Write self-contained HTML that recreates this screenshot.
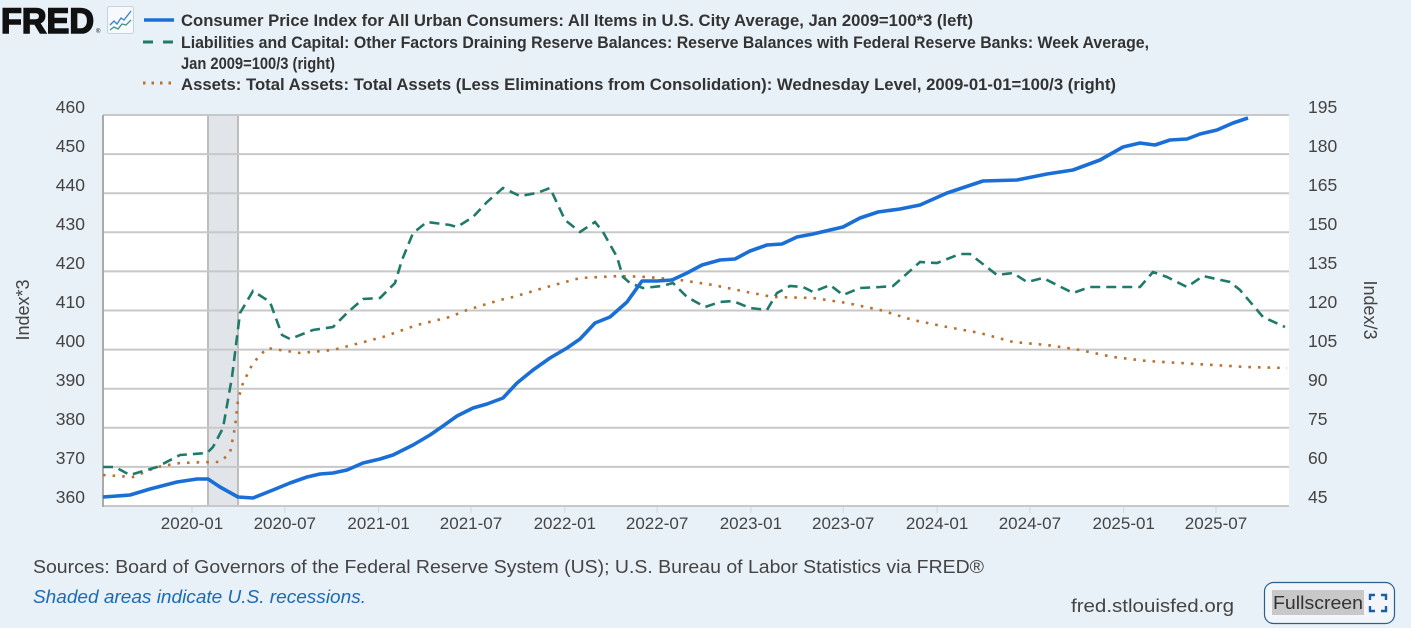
<!DOCTYPE html>
<html><head><meta charset="utf-8"><style>
html,body{margin:0;padding:0;background:#e8f0f8;}
svg{display:block;}
text{font-family:"Liberation Sans",sans-serif;}
</style></head><body>
<svg width="1411" height="628" viewBox="0 0 1411 628" xmlns="http://www.w3.org/2000/svg">
<rect x="0" y="0" width="1411" height="628" fill="#e8f0f8"/>
<!-- logo -->
<text x="1" y="33" font-size="35" font-weight="bold" fill="#111" stroke="#111" stroke-width="1.6" textLength="93" lengthAdjust="spacingAndGlyphs">FRED</text>
<text x="96" y="33" font-size="6" fill="#111">®</text>
<rect x="107.5" y="6.5" width="26" height="27" rx="2" fill="#f7f9fc" stroke="#c5d3e0"/>
<polyline points="110,25 114,21 117,24 121,18 124,20 131,11" fill="none" stroke="#3a7fd0" stroke-width="1.3"/>
<polyline points="110,30 114,27 118,29 122,24 126,25 131,20" fill="none" stroke="#3a9a80" stroke-width="1.3"/>
<!-- legend -->
<line x1="144" y1="20" x2="174" y2="20" stroke="#1a6fd6" stroke-width="3.5"/>
<line x1="143" y1="42" x2="174" y2="42" stroke="#1f7a6a" stroke-width="3" stroke-dasharray="10,10"/>
<line x1="143" y1="83" x2="174" y2="83" stroke="#b8712f" stroke-width="3" stroke-dasharray="2.5,6"/>
<g font-size="17" font-weight="bold" fill="#333">
<text x="181" y="26" textLength="792" lengthAdjust="spacingAndGlyphs">Consumer Price Index for All Urban Consumers: All Items in U.S. City Average, Jan 2009=100*3 (left)</text>
<text x="181" y="48" textLength="968" lengthAdjust="spacingAndGlyphs">Liabilities and Capital: Other Factors Draining Reserve Balances: Reserve Balances with Federal Reserve Banks: Week Average,</text>
<text x="181" y="69" textLength="154" lengthAdjust="spacingAndGlyphs">Jan 2009=100/3 (right)</text>
<text x="181" y="90" textLength="935" lengthAdjust="spacingAndGlyphs">Assets: Total Assets: Total Assets (Less Eliminations from Consolidation): Wednesday Level, 2009-01-01=100/3 (right)</text>
</g>
<!-- plot area -->
<rect x="103" y="115" width="1186" height="391" fill="#ffffff"/>
<rect x="208" y="115" width="30" height="391" fill="#e1e5ea"/>
<line x1="208" y1="115" x2="208" y2="506" stroke="#bdbdbd" stroke-width="2"/>
<line x1="238" y1="115" x2="238" y2="506" stroke="#bdbdbd" stroke-width="2"/>
<g stroke="#c8c8c8" stroke-width="2">
<line x1="103" y1="115" x2="1289" y2="115"/>
<line x1="103" y1="154.1" x2="1289" y2="154.1"/>
<line x1="103" y1="193.2" x2="1289" y2="193.2"/>
<line x1="103" y1="232.3" x2="1289" y2="232.3"/>
<line x1="103" y1="271.4" x2="1289" y2="271.4"/>
<line x1="103" y1="310.5" x2="1289" y2="310.5"/>
<line x1="103" y1="349.6" x2="1289" y2="349.6"/>
<line x1="103" y1="388.7" x2="1289" y2="388.7"/>
<line x1="103" y1="427.8" x2="1289" y2="427.8"/>
<line x1="103" y1="466.9" x2="1289" y2="466.9"/>
<line x1="103" y1="506" x2="1289" y2="506"/>
</g>
<line x1="103" y1="115" x2="103" y2="507" stroke="#aaaaaa" stroke-width="2"/>
<g stroke="#cfd6dd" stroke-width="1">
<line x1="192" y1="507" x2="192" y2="513"/><line x1="284.8" y1="507" x2="284.8" y2="513"/>
<line x1="378.6" y1="507" x2="378.6" y2="513"/><line x1="471" y1="507" x2="471" y2="513"/>
<line x1="564.8" y1="507" x2="564.8" y2="513"/><line x1="657.1" y1="507" x2="657.1" y2="513"/>
<line x1="750.9" y1="507" x2="750.9" y2="513"/><line x1="843.2" y1="507" x2="843.2" y2="513"/>
<line x1="937.1" y1="507" x2="937.1" y2="513"/><line x1="1029.9" y1="507" x2="1029.9" y2="513"/>
<line x1="1123.7" y1="507" x2="1123.7" y2="513"/><line x1="1216" y1="507" x2="1216" y2="513"/>
</g>
<!-- series -->
<polyline fill="none" stroke="#b8712f" stroke-width="2.6" stroke-dasharray="2.6,7" points="103,475 133,477 157,467 180,463 210,462 220,462 230,453 235,427 238,400 243,383 253,363 267,348 280,350 300,353 333,350 360,343 383,337 417,325 450,317 467,310 500,300 513,297 547,287 580,278 620,276 647,277 680,280 713,285 747,292 773,297 813,298 847,303 880,310 913,320 947,327 980,333 1013,342 1047,345 1080,350 1113,357 1147,361 1180,363 1213,365 1247,367 1287,368"/>
<polyline fill="none" stroke="#1f7a6a" stroke-width="2.6" stroke-dasharray="10,6" points="103,467 115,467 130,475 157,467 180,455 207,453 213,447 223,428 232,377 237,337 240,313 253,291 270,302 282,335 290,339 313,330 333,327 347,313 363,299 380,298 395,283 402,260 413,233 427,222 450,225 457,227 473,217 487,202 503,188 520,196 537,193 550,188 565,220 580,232 595,222 603,232 617,257 623,277 630,283 643,288 662,286 673,283 687,297 705,307 720,302 733,301 750,308 767,310 777,293 790,286 803,287 813,292 830,285 843,295 860,288 880,287 893,286 920,262 937,263 960,254 970,254 997,275 1013,273 1027,282 1043,278 1073,293 1090,287 1140,287 1153,272 1167,277 1187,287 1203,276 1230,282 1240,290 1263,317 1285,327"/>
<polyline fill="none" stroke="#1a6fd6" stroke-width="3.6" stroke-linejoin="round" points="103,497 130,495 150,489 177,482 197,479 208,479 220,487 238,497 253,498 273,490 290,483 307,477 320,474 333,473 347,470 363,463 380,459 393,455 413,445 430,435 443,426 457,416 473,408 487,404 503,398 517,383 533,370 550,358 567,348 580,339 595,323 610,317 627,302 642,281 657,281 672,280 687,273 702,265 720,260 735,259 750,251 767,245 782,244 797,237 813,234 830,230 843,227 860,218 878,212 900,209 920,205 947,193 983,181 1017,180 1047,174 1073,170 1100,160 1123,147 1140,143 1155,145 1170,140 1187,139 1200,134 1217,130 1233,123 1248,118"/>
<!-- left axis labels -->
<g font-size="17.5" fill="#444" text-anchor="end">
<text x="85" y="113">460</text><text x="85" y="152">450</text><text x="85" y="191">440</text>
<text x="85" y="230">430</text><text x="85" y="269">420</text><text x="85" y="308">410</text>
<text x="85" y="347">400</text><text x="85" y="386">390</text><text x="85" y="425">380</text>
<text x="85" y="464">370</text><text x="85" y="503">360</text>
</g>
<g font-size="17.5" fill="#444" text-anchor="start">
<text x="1308" y="113">195</text><text x="1308" y="152">180</text><text x="1308" y="191">165</text>
<text x="1308" y="230">150</text><text x="1308" y="269">135</text><text x="1308" y="308">120</text>
<text x="1308" y="347">105</text><text x="1308" y="386">90</text><text x="1308" y="425">75</text>
<text x="1308" y="464">60</text><text x="1308" y="503">45</text>
</g>
<text transform="translate(29,310) rotate(-90)" font-size="18" fill="#444" text-anchor="middle">Index*3</text>
<text transform="translate(1364,310) rotate(90)" font-size="18" fill="#444" text-anchor="middle">Index/3</text>
<!-- x labels -->
<g font-size="17" fill="#444" text-anchor="middle">
<text x="192" y="529">2020-01</text><text x="284.8" y="529">2020-07</text>
<text x="378.6" y="529">2021-01</text><text x="471" y="529">2021-07</text>
<text x="564.8" y="529">2022-01</text><text x="657.1" y="529">2022-07</text>
<text x="750.9" y="529">2023-01</text><text x="843.2" y="529">2023-07</text>
<text x="937.1" y="529">2024-01</text><text x="1029.9" y="529">2024-07</text>
<text x="1123.7" y="529">2025-01</text><text x="1216" y="529">2025-07</text>
</g>
<!-- footer -->
<text x="33" y="573" font-size="18" fill="#444" textLength="951" lengthAdjust="spacingAndGlyphs">Sources: Board of Governors of the Federal Reserve System (US); U.S. Bureau of Labor Statistics via FRED®</text>
<text x="33" y="603" font-size="18" font-style="italic" fill="#1a6bb5" textLength="333" lengthAdjust="spacingAndGlyphs">Shaded areas indicate U.S. recessions.</text>
<text x="1071" y="612" font-size="18" fill="#444" textLength="163" lengthAdjust="spacingAndGlyphs">fred.stlouisfed.org</text>
<rect x="1264.5" y="582.5" width="130" height="41" rx="9" fill="#f2f6fa" stroke="#2a5f8f" stroke-width="1.2"/>
<rect x="1272" y="590" width="92" height="25" fill="#c8c8c8"/>
<text x="1273" y="609" font-size="18" fill="#333" textLength="90" lengthAdjust="spacingAndGlyphs">Fullscreen</text>
<g fill="none" stroke="#1a5fa8" stroke-width="2.4">
<polyline points="1370,600 1370,595 1375,595"/>
<polyline points="1381,595 1386,595 1386,600"/>
<polyline points="1370,606 1370,611 1375,611"/>
<polyline points="1381,611 1386,611 1386,606"/>
</g>
</svg>
</body></html>
